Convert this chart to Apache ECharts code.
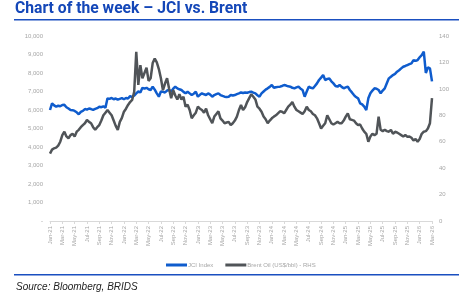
<!DOCTYPE html>
<html>
<head>
<meta charset="utf-8">
<script src="https://cdn.jsdelivr.net/npm/echarts@6/dist/echarts.min.js"></script>
<style>
html,body{margin:0;padding:0;background:#fff;}
#c{width:464px;height:297px;}
</style>
</head>
<body>
<div id="c"></div>
<script>
// Tick labels (every 2 months); data sampled ~3 points per month from Jan-21 to early Mar-26
const tickLabels = ['Jan-21','Mar-21','May-21','Jul-21','Sep-21','Nov-21',
  'Jan-22','Mar-22','May-22','Jul-22','Sep-22','Nov-22',
  'Jan-23','Mar-23','May-23','Jul-23','Sep-23','Nov-23',
  'Jan-24','Mar-24','May-24','Jul-24','Sep-24','Nov-24',
  'Jan-25','Mar-25','May-25','Jul-25','Sep-25','Nov-25',
  'Jan-26','Mar-26'];

const jci = [6000,6360,6250,6180,6230,6200,6270,6280,6150,6080,
  6000,5990,5950,5875,5770,5900,5950,6050,6020,6080,
  6050,6010,6060,6100,6180,6150,6200,6120,6630,6600,
  6650,6580,6620,6560,6600,6640,6580,6650,6620,6750,
  6700,6780,6900,7000,6950,7200,7150,7200,7120,7080,
  7260,7100,6900,6720,7000,6980,6950,7050,7080,7000,
  7150,7260,7170,7120,7080,6980,6900,6990,6900,6810,
  6880,6990,6720,6820,6900,6850,6810,6900,6830,6720,
  6810,6860,6900,6810,6760,6720,6700,6720,6810,6780,
  6810,6860,6900,6950,6920,6950,6930,6970,6990,6940,
  6900,6800,6720,6900,7000,7100,7170,7250,7350,7200,
  7230,7250,7260,7300,7350,7320,7280,7260,7200,7170,
  7220,7260,7150,7080,6720,7000,7260,7200,7170,7300,
  7440,7620,7750,7890,7620,7680,7700,7550,7440,7300,
  7260,7350,7250,7170,7220,7260,7080,6950,6810,6700,
  6630,6360,6300,6180,6000,6630,6900,7050,7170,7150,
  7080,6900,7050,7170,7450,7710,7800,7890,7950,8070,
  8150,8250,8340,8380,8430,8480,8520,8700,8650,8700,
  8850,8970,9150,8000,8300,8250,7550];

const brent = [51,54,55,55.5,57,60,65,67.6,64,62.6,
  65,66,64,67.6,69,71,72.6,74,76.4,75,
  74,71,69,71,72.6,76,80,82,84,82,
  80,76,72,69,75,78,82.7,85,87.8,90,
  91.6,97.8,128,103,118,108,112,116,106,108,
  119.5,123,120,115,108,99,104,108,100,93,
  99,95,92,96,92,94,86.5,88,84,77.7,
  80,82,86.5,85,84,82,85,80,77,74,
  79,81,83,77.7,76,74,74.5,75,72.6,74,
  76,79,84,87.8,84,86,90,93,95.9,94,
  92,86.5,85,82.7,79,77,74,76,77.7,79,
  80,81.5,83,82.7,81.5,84,86.5,88,90,86.5,
  84,83,82,81,83,86.5,84,83,81,80,
  77.7,74,70,72,74,80,77,74,73,74,
  75,74,74,76,79,81.5,77,76.5,76,74,
  72.6,73,70,67.6,66,60,64,66,65,66,
  79,69,68,69,68,67.6,69,66,67.5,67,
  66,65,64,65,63.8,64,63,61,62,60,
  62,66,67.6,68,70,74,93];

const categories = jci.map((_, i) => String(i));

const chart = echarts.init(document.getElementById('c'), null, {renderer: 'canvas'});
const axisFont = {fontFamily: 'Liberation Sans', fontSize: 6, color: '#a6a6a6'};

chart.setOption({
  animation: false,
  backgroundColor: '#ffffff',
  grid: {left: 50, right: 32, top: 36, bottom: 76, containLabel: false},
  graphic: [
    {type: 'text', left: 15, top: 1, style: {text: 'Chart of the week \u2013 JCI vs. Brent', fontFamily: 'Roboto', fontStyle: 'normal', fontWeight: 'bold', fontSize: 15.7, fill: '#1447b8'}},
    {type: 'rect', shape: {x: 14, y: 19, width: 445, height: 1.5}, style: {fill: '#1a4fc0'}},
    {type: 'rect', shape: {x: 14, y: 274, width: 445, height: 1.5}, style: {fill: '#1a4fc0'}},
    {type: 'text', left: 16, top: 282, style: {text: 'Source: Bloomberg, BRIDS', fontFamily: 'Liberation Sans', fontStyle: 'italic', fontWeight: 'normal', fontSize: 10, fill: '#222222'}}
  ],
  legend: {
    left: 161, top: 257,
    itemWidth: 21, itemHeight: 3, itemGap: 12,
    icon: 'rect',
    textStyle: {fontFamily: 'Liberation Sans', fontSize: 6, color: '#a6a6a6', padding: [0, 0, 0, -4]},
    data: ['JCI Index', 'Brent Oil (US$/bbl) - RHS']
  },
  xAxis: {
    type: 'category',
    data: categories,
    boundaryGap: false,
    axisLine: {lineStyle: {color: '#d9d9d9', width: 1}},
    axisTick: {show: true, length: 3, lineStyle: {color: '#d9d9d9'}, interval: (i) => i % 6 === 0},
    axisLabel: Object.assign({rotate: 90, margin: 5, interval: (i) => i % 6 === 0,
      formatter: (v, i) => (i % 6 === 0 ? tickLabels[i / 6] : '')}, axisFont),
    splitLine: {show: false}
  },
  yAxis: [
    {
      type: 'value', min: 0, max: 10000, interval: 1000,
      axisLine: {show: false}, axisTick: {show: false}, splitLine: {show: false},
      axisLabel: Object.assign({margin: 7, formatter: (v) => (v === 0 ? '-' : v.toLocaleString('en-US'))}, axisFont)
    },
    {
      type: 'value', min: 0, max: 140, interval: 20,
      axisLine: {show: false}, axisTick: {show: false}, splitLine: {show: false},
      axisLabel: Object.assign({margin: 7}, axisFont)
    }
  ],
  series: [
    {name: 'JCI Index', type: 'line', data: jci, yAxisIndex: 0, showSymbol: false,
      lineStyle: {color: '#0f5ccd', width: 2.5}, itemStyle: {color: '#0f5ccd'}},
    {name: 'Brent Oil (US$/bbl) - RHS', type: 'line', data: brent, yAxisIndex: 1, showSymbol: false,
      lineStyle: {color: '#505458', width: 2.5}, itemStyle: {color: '#505458'}}
  ]
});
</script>
</body>
</html>
